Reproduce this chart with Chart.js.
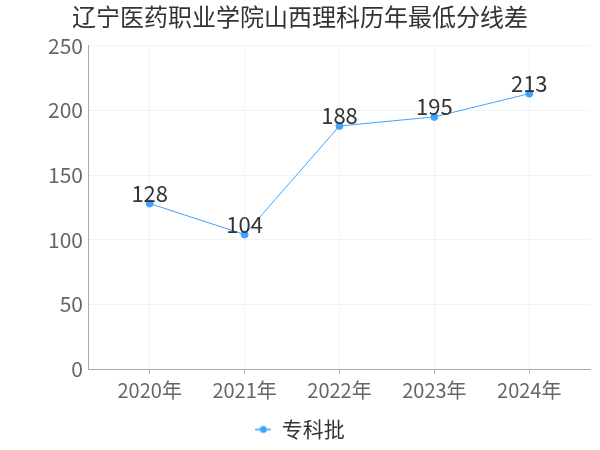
<!DOCTYPE html>
<html>
<head>
<meta charset="utf-8">
<script src="https://cdn.jsdelivr.net/npm/chart.js@4/dist/chart.umd.min.js"></script>
<style>
  html, body { margin: 0; padding: 0; background: #fff; }
  #wrap { width: 600px; height: 450px; }
</style>
</head>
<body>
<div id="wrap"><canvas id="line"></canvas></div>
<script>
const years = [2020, 2021, 2022, 2023, 2024];
const scores = [128, 104, 188, 195, 213];
const seriesName = '专科批';
const yTicks = [0, 50, 100, 150, 200, 250];

const FONT = '"Noto Sans CJK SC", "Noto Sans", sans-serif';
const BLUE = '#40a4ff';

// legend symbol: short line with a dot
const sym = document.createElement('canvas');
sym.width = 16; sym.height = 10;
const sc = sym.getContext('2d');
sc.strokeStyle = BLUE; sc.lineWidth = 1.5;
sc.beginPath(); sc.moveTo(0, 5); sc.lineTo(16, 5); sc.stroke();
sc.fillStyle = BLUE;
sc.beginPath(); sc.arc(8, 5, 3.5, 0, Math.PI * 2); sc.fill();

// draw value above each point
const pointLabels = {
    id: 'pointLabels',
    afterDatasetsDraw(chart) {
        const c = chart.ctx;
        const meta = chart.getDatasetMeta(0);
        c.save();
        c.font = '22px ' + FONT;
        c.fillStyle = '#333';
        c.textAlign = 'center';
        c.textBaseline = 'bottom';
        meta.data.forEach((pt, i) => {
            c.fillText(String(scores[i]), pt.x, pt.y + 1);
        });
        c.restore();
    }
};

const ctx = document.getElementById('line').getContext('2d');
const line = new Chart(ctx, {
    type: 'line',
    data: {
        datasets: [{
            label: seriesName,
            data: years.map((y, i) => ({ x: y, y: scores[i] })),
            borderColor: BLUE,
            backgroundColor: BLUE,
            borderWidth: 1,
            pointStyle: 'circle',
            pointRadius: 3.5,
            pointHoverRadius: 3.5,
            tension: 0
        }]
    },
    options: {
        responsive: true,
        maintainAspectRatio: false,
        animation: false,
        layout: { padding: { left: 10, right: 10, top: 0, bottom: 0 } },
        plugins: {
            title: {
                display: true,
                text: '辽宁医药职业学院山西理科历年最低分线差',
                color: '#333',
                font: { family: FONT, size: 24, weight: 'normal' },
                padding: { top: 2, bottom: 15 }
            },
            legend: {
                position: 'bottom',
                labels: {
                    color: '#333',
                    font: { family: FONT, size: 21 },
                    usePointStyle: true,
                    pointStyleWidth: 16,
                    padding: 8,
                    generateLabels: chart => [{
                        text: seriesName,
                        pointStyle: sym,
                        fontColor: '#333',
                        datasetIndex: 0,
                        hidden: false
                    }]
                }
            },
            tooltip: { enabled: false }
        },
        scales: {
            x: {
                type: 'linear',
                min: years[0] - 0.64,
                max: years[years.length - 1] + 0.64,
                afterBuildTicks: axis => { axis.ticks = years.map(v => ({ value: v })); },
                afterFit: axis => { axis.height += 5; },
                ticks: {
                    color: '#666',
                    font: { family: FONT, size: 20 },
                    padding: 4,
                    callback: v => v + '年'
                },
                grid: { color: '#f3f3f3', tickLength: 5, tickColor: '#bbb' },
                border: { color: '#aaa' }
            },
            y: {
                min: 0,
                max: 250,
                afterBuildTicks: axis => { axis.ticks = yTicks.map(v => ({ value: v })); },
                afterFit: axis => { axis.width += 32; },
                ticks: {
                    color: '#666',
                    font: { family: FONT, size: 21 },
                    padding: 6
                },
                grid: { color: '#f3f3f3', drawTicks: false },
                border: { color: '#aaa' }
            }
        }
    },
    plugins: [pointLabels]
});
</script>
</body>
</html>
